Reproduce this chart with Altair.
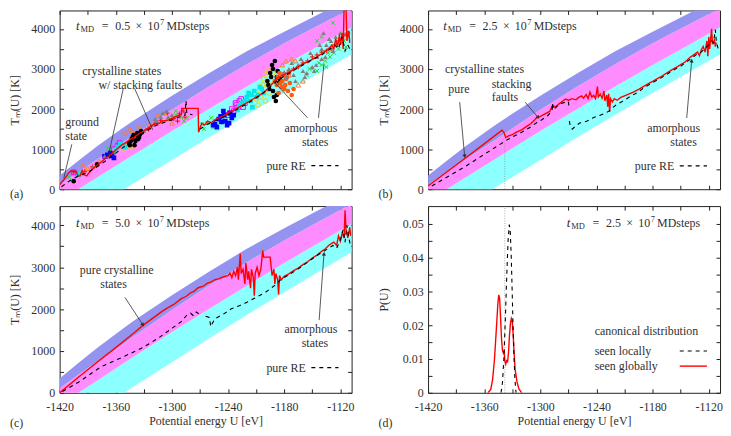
import math
import altair as alt
import pandas as pd

FONT = "Liberation Serif"
FS = 12
TXT = "#303030"
W, HT, HB = 294, 180, 188
XDOM = [-1420, -1108]
TDOM = [0, 4460]
PDOM = [0, 0.0553]
XLAB = [-1420, -1360, -1300, -1240, -1180, -1120]
XTICK = [-1420, -1390, -1360, -1330, -1300, -1270, -1240, -1210, -1180, -1150, -1120]
TLAB = [0, 1000, 2000, 3000, 4000]
TTICK = [0, 500, 1000, 1500, 2000, 2500, 3000, 3500, 4000]
PLAB = [0, 0.01, 0.02, 0.03, 0.04, 0.05]
PTICK = [0, 0.005, 0.01, 0.015, 0.02, 0.025, 0.03, 0.035, 0.04, 0.045, 0.05]

BLUE, MAG, CYAN = "#9494f0", "#ff8cff", "#8cffff"

# band boundaries (potential energy U, temperature T)
BAND_U = [-1420, -1400, -1380, -1350, -1340, -1300, -1260, -1220, -1180, -1140, -1108]
BAND_TOP = [340, 710, 1070, 1570, 1730, 2330, 2900, 3440, 3930, 4400, 4760]
BAND_BM = [110, 430, 740, 1200, 1360, 1980, 2570, 3120, 3640, 4130, 4510]
BAND_MC = [-290, 0, 290, 730, 875, 1450, 2010, 2560, 3100, 3620, 4040]
BAND_LOW = [-1000, -710, -420, 15, 160, 730, 1300, 1860, 2400, 2935, 3360]

A_RED = [(-1420, 110), (-1415, 250), (-1410, 420), (-1408, 455), (-1403, 450), (-1400, 330), (-1398, 340),
         (-1396, 470), (-1394, 360), (-1391, 330), (-1389, 400), (-1384, 520), (-1380, 600), (-1375, 690),
         (-1370, 790), (-1365, 870), (-1360, 980), (-1354, 1100), (-1350, 1150), (-1345, 1240), (-1340, 1300),
         (-1335, 1390), (-1330, 1450), (-1326, 1520), (-1319, 1620), (-1314, 1640), (-1310, 1700),
         (-1305, 1720), (-1300, 1770), (-1295, 1820), (-1290, 1860), (-1289.5, 2016), (-1272, 2016),
         (-1271.5, 1421), (-1270, 1520), (-1268, 1650), (-1265, 1600), (-1262, 1700), (-1258, 1660),
         (-1254, 1740), (-1250, 1780), (-1245, 1830), (-1241, 1880), (-1237, 1940), (-1232, 2000),
         (-1226, 2080), (-1219, 2170), (-1212, 2270), (-1206, 2350), (-1202, 2410), (-1198, 2500),
         (-1194, 2600), (-1190, 2700), (-1188, 2770), (-1184, 2820), (-1180, 2860), (-1174, 2930),
         (-1168, 3020), (-1160, 3130), (-1153, 3200), (-1146, 3290), (-1140, 3380), (-1136, 3450),
         (-1132, 3520), (-1129, 3600), (-1127, 3500), (-1125, 3750), (-1123, 3550), (-1121, 3850),
         (-1120, 3600), (-1118, 3900), (-1117, 3500), (-1116, 4600), (-1114, 4600), (-1113, 3700),
         (-1111, 3950), (-1110, 3650)]
A_BLK = [[(-1418, 60), (-1410, 200), (-1400, 330), (-1390, 420), (-1380, 560), (-1370, 720), (-1360, 900),
          (-1350, 1080), (-1340, 1250), (-1330, 1420), (-1320, 1560), (-1310, 1650), (-1300, 1730),
          (-1292, 1800), (-1286, 1850), (-1285, 2210), (-1284, 1880), (-1278, 1860)],
         [(-1270, 1500), (-1262, 1620), (-1254, 1700), (-1245, 1800), (-1235, 1930), (-1225, 2060),
          (-1215, 2200), (-1205, 2350), (-1195, 2550), (-1188, 2700), (-1180, 2820), (-1170, 2960),
          (-1160, 3100), (-1150, 3230), (-1140, 3350), (-1132, 3480), (-1126, 3600), (-1122, 3500),
          (-1118, 3800), (-1115, 3450), (-1112, 3600), (-1110, 3500)]]

B_RED = [(-1420, 80), (-1400, 430), (-1380, 780), (-1360, 1130), (-1341, 1470), (-1339, 1420), (-1337, 1290),
         (-1334, 1330), (-1330, 1360), (-1325, 1430), (-1320, 1480), (-1315, 1560), (-1310, 1640),
         (-1304, 1780), (-1300, 1820), (-1295, 1880), (-1290, 1940), (-1287, 2090), (-1284, 2050),
         (-1280, 2130), (-1276, 2200), (-1273, 2250), (-1270, 2220), (-1266, 2260), (-1262, 2230),
         (-1259, 2290), (-1256, 2330), (-1254, 2270), (-1251, 2360), (-1249, 2260), (-1247, 2420),
         (-1245, 2300), (-1243, 2340), (-1241, 2260), (-1239, 2560), (-1238, 2300), (-1236, 2370),
         (-1234, 2270), (-1232, 2450), (-1231, 2200), (-1229, 2350), (-1228, 2060), (-1227, 2380),
         (-1226, 1930), (-1225, 2260), (-1223, 2180), (-1221, 2260), (-1218, 2220), (-1214, 2290),
         (-1210, 2330), (-1205, 2380), (-1200, 2430), (-1195, 2490), (-1189, 2570), (-1184, 2640),
         (-1180, 2690), (-1175, 2760), (-1170, 2820), (-1165, 2900), (-1160, 2970), (-1154, 3050),
         (-1150, 3110), (-1145, 3180), (-1140, 3290), (-1135, 3370), (-1132, 3420), (-1130, 3330),
         (-1128, 3480), (-1126, 3560), (-1124, 3420), (-1122, 3700), (-1121, 3320), (-1120, 3800),
         (-1119, 3500), (-1117, 4000), (-1116, 3620), (-1114, 3720), (-1113, 3560), (-1112, 3660)]
B_BLK = [[(-1416, 80), (-1400, 300), (-1380, 570), (-1360, 870), (-1339, 1180), (-1335, 1240), (-1330, 1300),
          (-1320, 1420), (-1310, 1560), (-1304, 1660), (-1298, 1740), (-1292, 1840), (-1287.5, 1950),
          (-1287, 2150), (-1286, 1980), (-1280, 2120), (-1275, 2160), (-1270, 2190), (-1269.5, 2060)],
         [(-1269, 1700), (-1268, 1560), (-1266, 1500), (-1262, 1580), (-1258, 1650), (-1250, 1700),
          (-1245, 1770), (-1238, 1830), (-1231, 1890), (-1226, 1960), (-1222, 2050), (-1218, 2120),
          (-1213, 2180), (-1205, 2300), (-1195, 2430), (-1189, 2540), (-1180, 2660), (-1170, 2790),
          (-1160, 2940), (-1150, 3070), (-1140, 3240), (-1132, 3380), (-1128, 3420), (-1124, 3520),
          (-1120, 3600), (-1117, 3700), (-1115, 3650), (-1113, 3980), (-1112, 3700), (-1110, 3500)]]

C_RED = [(-1420, 0), (-1400, 370), (-1380, 730), (-1360, 1080), (-1340, 1440), (-1331, 1610), (-1320, 1790),
         (-1312, 1920), (-1306, 2010), (-1298, 2110), (-1290, 2250), (-1285, 2300), (-1280, 2390),
         (-1276, 2430), (-1272, 2510), (-1267, 2540), (-1262, 2620), (-1258, 2650), (-1254, 2700),
         (-1250, 2720), (-1246, 2760), (-1242, 2790), (-1240, 2800), (-1238, 2860), (-1236, 2750),
         (-1234, 2900), (-1232, 2800), (-1230, 3000), (-1229, 2700), (-1227, 3320), (-1226, 2850),
         (-1224, 2950), (-1222, 2600), (-1221, 3100), (-1219, 2700), (-1218, 2900), (-1216, 2500),
         (-1215, 2950), (-1213, 2750), (-1212, 2320), (-1211, 2850), (-1209, 3000), (-1207, 2800),
         (-1205, 2950), (-1203, 3400), (-1202, 3240), (-1195, 3240), (-1193, 2800), (-1191, 2950),
         (-1190, 2600), (-1189, 2850), (-1187, 2700), (-1186, 2350), (-1185, 2800), (-1183, 2700),
         (-1180, 2780), (-1175, 2840), (-1170, 2920), (-1165, 2980), (-1160, 3060), (-1155, 3130),
         (-1150, 3220), (-1145, 3290), (-1140, 3380), (-1136, 3440), (-1132, 3530), (-1127, 3600),
         (-1124, 3520), (-1122, 3750), (-1120, 3620), (-1118, 3820), (-1116, 3700), (-1115, 4360),
         (-1114, 3900), (-1112, 3700), (-1110, 3950), (-1109, 3750)]
C_BLK = [[(-1417, 30), (-1400, 250), (-1376, 620), (-1350, 880), (-1331, 1080), (-1315, 1300), (-1300, 1540),
          (-1290, 1700), (-1284, 1860), (-1280, 1900), (-1277, 1840), (-1274, 1930), (-1271, 1880)],
         [(-1264, 1830), (-1260, 1800), (-1258.5, 1580), (-1257, 1650), (-1254, 1770), (-1245, 1880),
          (-1237, 2000), (-1228, 2080), (-1220, 2160), (-1210, 2280), (-1200, 2400), (-1194, 2500),
          (-1188, 2600), (-1184, 2700), (-1175, 2820), (-1165, 2960), (-1155, 3120), (-1145, 3280),
          (-1135, 3420), (-1128, 3520), (-1124, 3450), (-1120, 3650), (-1117, 3900), (-1115, 3600),
          (-1113, 4000), (-1111, 3700), (-1109, 3500)]]

D_RED = [(-1356, 0), (-1353, 0.001), (-1351, 0.004), (-1349, 0.01), (-1347, 0.019), (-1345.5, 0.026),
         (-1344.5, 0.029), (-1343.5, 0.028), (-1342.5, 0.022), (-1341.5, 0.016), (-1340.5, 0.0125),
         (-1339.5, 0.0118), (-1338.8, 0.0125), (-1338, 0.0095), (-1337, 0.0085), (-1336, 0.0095),
         (-1335, 0.0092), (-1334, 0.012), (-1333, 0.017), (-1332, 0.0205), (-1331, 0.022), (-1330, 0.0212),
         (-1329, 0.017), (-1328, 0.0115), (-1327, 0.007), (-1325, 0.0033), (-1323, 0.0012), (-1320, 0)]
D_BLK = [(-1342, 0), (-1340.5, 0.003), (-1339, 0.01), (-1337.5, 0.021), (-1336, 0.034), (-1334.5, 0.045),
         (-1333.2, 0.0498), (-1332.2, 0.048), (-1331.2, 0.041), (-1330.2, 0.031), (-1329.2, 0.02),
         (-1328.2, 0.011), (-1327.2, 0.004), (-1326, 0)]

# scatter of panel (a): name, color, shape, filled, points
PLUS = "M-1,0L1,0M0,-1L0,1"
XSH = "M-0.8,-0.8L0.8,0.8M-0.8,0.8L0.8,-0.8"
SCATTER = [
    ("red", "#ff0000", PLUS, False,
     [(-1398, 380), (-1385, 560), (-1372, 800), (-1318, 1650), (-1312, 1720), (-1305, 1900), (-1298, 1760),
      (-1292, 1880), (-1288, 1950), (-1286, 1800), (-1180, 2900), (-1170, 3000), (-1160, 3150),
      (-1150, 3300), (-1140, 3420), (-1130, 3500), (-1122, 3700), (-1115, 3850), (-1405, 430),
      (-1393, 450), (-1325, 1500), (-1294, 1700), (-1175, 2950), (-1165, 3050), (-1145, 3350),
      (-1135, 3450), (-1126, 3600), (-1118, 3750), (-1112, 3900), (-1155, 3200)]),
    ("green", "#22dd22", XSH, False,
     [(-1410, 300), (-1368, 1020), (-1362, 900), (-1302, 1750), (-1296, 1850), (-1290, 1800), (-1287, 1700),
      (-1266, 1500), (-1262, 1650), (-1258, 1780), (-1252, 1600), (-1248, 1700), (-1156, 2850),
      (-1150, 3000), (-1145, 2950), (-1140, 3100), (-1136, 3200), (-1131, 3300), (-1127, 3400),
      (-1122, 3500), (-1118, 3650), (-1114, 3550), (-1140, 3800), (-1128, 4150), (-1365, 950),
      (-1296, 1950), (-1284, 1780), (-1268, 1620), (-1256, 1540), (-1246, 1800), (-1153, 3000),
      (-1143, 3150), (-1133, 3400), (-1124, 3600), (-1116, 3700), (-1112, 3900), (-1135, 3050),
      (-1145, 3700)]),
    ("magenta", "#ff00ff", "square", False,
     [(-1405, 420), (-1362, 1000), (-1356, 1150), (-1240, 1850), (-1236, 2000), (-1232, 2150),
      (-1229, 2050), (-1226, 2250), (-1222, 2150), (-1234, 1950), (-1400, 380), (-1358, 1080),
      (-1238, 1900), (-1228, 2200), (-1224, 2050), (-1231, 2100)]),
    ("yellow", "#f0d000", "circle", False,
     [(-1352, 1000), (-1347, 1120), (-1344, 1060), (-1210, 2250), (-1206, 2450), (-1203, 2600),
      (-1200, 2850), (-1197, 2950), (-1194, 2700), (-1208, 2100), (-1200, 2200), (-1349, 1050),
      (-1205, 2300), (-1202, 2750), (-1198, 2600), (-1196, 2400), (-1192, 2900)]),
    ("orange", "#ff7a30", "triangle-up", False,
     [(-1390, 520), (-1378, 700), (-1350, 1400), (-1342, 1450), (-1324, 1600), (-1308, 1900),
      (-1300, 1650), (-1178, 3200), (-1172, 3250), (-1186, 2950), (-1165, 2600), (-1395, 600),
      (-1345, 1500), (-1335, 1550), (-1315, 1850), (-1182, 3100), (-1168, 3200), (-1160, 2700),
      (-1175, 2850)]),
    ("blue", "#0000ff", "square", True,
     [(-1372, 820), (-1366, 900), (-1362, 780), (-1254, 1620), (-1250, 1750), (-1247, 1680),
      (-1244, 1850), (-1241, 1600), (-1238, 1900), (-1236, 1780), (-1252, 1550), (-1369, 860),
      (-1364, 830), (-1256, 1600), (-1248, 1820), (-1243, 1700), (-1239, 1650), (-1245, 1950),
      (-1234, 1850)]),
    ("cyan", "#00e8e8", "square", True,
     [(-1400, 350), (-1360, 980), (-1355, 1130), (-1350, 1050), (-1230, 1980), (-1225, 2150),
      (-1220, 2300), (-1216, 2200), (-1212, 2450), (-1208, 2350), (-1204, 2500), (-1214, 2050),
      (-1398, 400), (-1358, 1050), (-1352, 1100), (-1228, 2100), (-1222, 2200), (-1218, 2400),
      (-1210, 2300), (-1206, 2550), (-1202, 2400), (-1215, 2350)]),
    ("black", "#000000", "circle", True,
     [(-1405, 200), (-1380, 620), (-1346, 1150), (-1343, 1250), (-1341, 1350), (-1339, 1200),
      (-1337, 1400), (-1335, 1300), (-1333, 1450), (-1340, 1100), (-1198, 2700), (-1195, 2900),
      (-1192, 3000), (-1190, 3200), (-1188, 2800), (-1186, 2650), (-1196, 2500), (-1191, 2300),
      (-1189, 2200), (-1344, 1200), (-1342, 1300), (-1338, 1350), (-1336, 1250), (-1334, 1380),
      (-1332, 1420), (-1345, 1100), (-1194, 2800), (-1193, 3100), (-1187, 2950), (-1185, 2750),
      (-1197, 2600), (-1192, 2450), (-1188, 2350)]),
    ("orangered", "#ff5a10", "circle", True,
     [(-1190, 2700), (-1187, 2800), (-1184, 2650), (-1181, 2850), (-1178, 2750), (-1175, 2900),
      (-1183, 2550), (-1179, 2600), (-1176, 2450), (-1172, 2350), (-1188, 2600), (-1185, 2900),
      (-1182, 2700), (-1180, 2500), (-1177, 2800), (-1174, 2650), (-1170, 2500), (-1186, 2400)]),
    ("grey", "#808080", "triangle-up", True,
     [(-1385, 560), (-1372, 820), (-1330, 1450), (-1322, 1600), (-1318, 1750), (-1312, 1800),
      (-1306, 1950), (-1300, 1850), (-1180, 2900), (-1175, 3000), (-1170, 2850), (-1165, 3100),
      (-1160, 2950), (-1155, 3200), (-1150, 3050), (-1145, 3300), (-1140, 3500), (-1135, 3600),
      (-1130, 3700), (-1125, 3800), (-1168, 2700), (-1158, 2800), (-1148, 2950), (-1138, 3900),
      (-1128, 3450), (-1140, 3250), (-1328, 1500), (-1316, 1700), (-1310, 1900), (-1304, 1800),
      (-1178, 2800), (-1172, 3150), (-1162, 3250), (-1152, 3400), (-1142, 3600), (-1132, 3750),
      (-1120, 3900), (-1156, 2900), (-1146, 3100), (-1136, 3300)]),
]


def xenc(field, axis=None):
    return alt.X(f"{field}:Q", scale=alt.Scale(domain=XDOM, nice=False, zero=False), axis=axis)


def yenc(field, dom, axis=None):
    return alt.Y(f"{field}:Q", scale=alt.Scale(domain=dom, nice=False, zero=False), axis=axis)


def tick_axis(orient, offset, values):
    return alt.Axis(orient=orient, offset=offset, values=values, labels=False, ticks=True, tickSize=4,
                    tickColor="#222222", tickWidth=1, domain=False, grid=False, title=None,
                    minExtent=0, maxExtent=0)


def main_x():
    return alt.Axis(orient="bottom", values=XLAB, labelExpr="'' + datum.value", ticks=False, domain=False,
                    grid=False, labelFlush=False, labelFont=FONT, labelFontSize=FS, labelColor=TXT,
                    labelPadding=9, title="Potential energy U [eV]", titleFont=FONT, titleFontSize=FS,
                    titleFontWeight="normal", titleColor=TXT, titlePadding=3)


def main_y(values, title, expr):
    return alt.Axis(orient="left", values=values, labelExpr=expr, ticks=False, domain=False, grid=False,
                    labelFont=FONT, labelFontSize=FS, labelColor=TXT, labelPadding=5, minExtent=30,
                    maxExtent=30, title=title, titleFont=FONT, titleFontSize=FS, titleFontWeight="normal",
                    titleColor=TXT, titlePadding=8)


def line_layer(pts, color, dom, dash=None, width=1.3):
    if pts and isinstance(pts[0], list):
        rows = [(u, t, s) for s, seg in enumerate(pts) for (u, t) in seg]
    else:
        rows = [(u, t, 0) for (u, t) in pts]
    df = pd.DataFrame(rows, columns=["U", "T", "seg"])
    df["i"] = range(len(df))
    kw = dict(color=color, strokeWidth=width, clip=True)
    if dash:
        kw["strokeDash"] = dash
    return alt.Chart(df).mark_line(**kw).encode(x=xenc("U"), y=yenc("T", dom), order="i:Q", detail="seg:N")


def text_layer(rows, dom, align="left", size=FS, style="normal", dy=0, dx=0):
    df = pd.DataFrame(rows, columns=["U", "T", "text"])
    return alt.Chart(df).mark_text(font=FONT, fontSize=size, fontStyle=style, color=TXT, align=align,
                                   baseline="middle", dx=dx, dy=dy).encode(
        x=xenc("U"), y=yenc("T", dom), text="text:N")


def seg_layer(rows, dom, color=TXT, width=0.8, dash=None):
    df = pd.DataFrame(rows, columns=["U", "T", "U2", "T2"])
    kw = dict(color=color, strokeWidth=width)
    if dash:
        kw["strokeDash"] = dash
    return alt.Chart(df).mark_rule(**kw).encode(
        x=xenc("U"), y=yenc("T", dom), x2="U2:Q", y2="T2:Q")


def arrow_layers(rows, H):
    # rows: (U start, T start, U tip, T tip); heads drawn at the tips
    sx, sy = W / (XDOM[1] - XDOM[0]), H / (TDOM[1] - TDOM[0])
    heads = []
    for u1, t1, u2, t2 in rows:
        dx = (u2 - u1) * sx
        dy = -(t2 - t1) * sy
        ang = math.degrees(math.atan2(dx, -dy)) % 360
        heads.append((u2, t2, ang))
    hdf = pd.DataFrame(heads, columns=["U", "T", "a"])
    head = alt.Chart(hdf).mark_point(shape="triangle-up", filled=True, size=18, color=TXT, opacity=1).encode(
        x=xenc("U"), y=yenc("T", TDOM), angle=alt.Angle("a:Q", scale=None))
    return [seg_layer(rows, TDOM), head]


def tmd_layers(u0, t0, val, dom):
    pieces = [("t", 0, 13, "italic", 0), ("MD", 4.5, 8.5, "normal", 3), ("=", 26, FS, "normal", 0),
              (val, 39.5, FS, "normal", 0), ("×", 60, FS, "normal", 0), ("10", 72, FS, "normal", 0),
              ("7", 84.5, 8.5, "normal", -4), ("MDsteps", 91, FS, "normal", 0)]
    return [text_layer([(u0, t0, s)], dom, size=sz, style=st, dx=dx, dy=dy) for s, dx, sz, st, dy in pieces]


BANDS = pd.DataFrame({"U": BAND_U, "b1": BAND_TOP, "b2": BAND_BM, "b3": BAND_MC, "b4": BAND_LOW})
TEXPR = "'' + datum.value"


def t_panel(H, show_x, layers):
    cyan = alt.Chart(BANDS).mark_area(color=CYAN, clip=True).encode(
        x=xenc("U", main_x() if show_x else None),
        y=yenc("b4", TDOM, main_y(TLAB, "Tₘ(U) [K]", TEXPR)), y2="b3:Q")
    mag = alt.Chart(BANDS).mark_area(color=MAG, clip=True).encode(
        x=xenc("U", tick_axis("top", -H, XTICK)),
        y=yenc("b3", TDOM, tick_axis("right", -W, TTICK)), y2="b2:Q")
    blue = alt.Chart(BANDS).mark_area(color=BLUE, clip=True).encode(
        x=xenc("U", tick_axis("bottom", -H, XTICK)),
        y=yenc("b2", TDOM, tick_axis("left", -W, TTICK)), y2="b1:Q")
    return alt.layer(cyan, mag, blue, *layers).resolve_axis(x="independent", y="independent").properties(
        width=W, height=H)


def scatter_layers():
    rows = []
    for name, col, shp, filled, pts in SCATTER:
        for u, t in pts:
            rows.append((u, t, name, filled))
    df = pd.DataFrame(rows, columns=["U", "T", "s", "f"])
    names = [s[0] for s in SCATTER]
    cscale = alt.Scale(domain=names, range=[s[1] for s in SCATTER])
    sscale = alt.Scale(domain=names, range=[s[2] for s in SCATTER])
    out = []
    for filled in (False, True):
        out.append(alt.Chart(df[df.f == filled]).mark_point(filled=filled, size=22, strokeWidth=1,
                                                            opacity=1, clip=True).encode(
            x=xenc("U"), y=yenc("T", TDOM),
            color=alt.Color("s:N", scale=cscale, legend=None),
            shape=alt.Shape("s:N", scale=sscale, legend=None)))
    return out


def pure_re(t, dom=TDOM):
    return [text_layer([(-1157, t, "pure RE")], dom, align="right"),
            seg_layer([(-1151, t, -1122, t)], dom, color="#000000", width=1.1, dash=[4, 4])]


LET_U = -1473

# panel (a)
pa = t_panel(HT, False, scatter_layers() + [
    line_layer(A_RED, "#ff0000", TDOM, width=1.4),
    line_layer(A_BLK, "#000000", TDOM, dash=[4, 4], width=1.1),
    seg_layer([(-1352, 2511, -1368.7, 752), (-1339.8, 2511, -1320.6, 1481), (-1407, 1120, -1415.5, 277),
               (-1155, 1780, -1191.5, 2693), (-1143.4, 1780, -1137.5, 3129)], TDOM),
    text_layer([(-1353.6, 2960, "crystalline states"), (-1333.6, 2595, "w/ stacking faults"),
                (-1151.4, 1530, "amorphous"), (-1147, 1180, "states")], TDOM, align="center"),
    text_layer([(-1414, 1665, "ground"), (-1414, 1315, "state"), (LET_U, -130, "(a)")], TDOM),
] + pure_re(588) + tmd_layers(-1402.5, 4071, "0.5", TDOM))

# panel (b)
pb = t_panel(HT, False, [
    line_layer(B_RED, "#ff0000", TDOM, width=1.4),
    line_layer(B_BLK, "#000000", TDOM, dash=[4, 4], width=1.1),
    seg_layer([(-1338, 0, -1338, 1190)], TDOM, color="#888888", width=0.7, dash=[1, 1.5]),
    *arrow_layers([(-1386.2, 2172, -1380.9, 821), (-1316.3, 2172, -1302.4, 1790),
                   (-1143.6, 1776, -1138.3, 3208)], HT),
    text_layer([(-1157.6, 1525, "amorphous"), (-1147, 1175, "states")], TDOM, align="center"),
    text_layer([(-1401.9, 3007, "crystalline states"), (-1398.4, 2506, "pure"), (-1352, 2630, "stacking"),
                (-1352, 2290, "faults"), (LET_U, -130, "(b)")], TDOM),
] + pure_re(582) + tmd_layers(-1403.7, 4081, "2.5", TDOM))

# panel (c)
pc = t_panel(HB, True, [
    line_layer(C_RED, "#ff0000", TDOM, width=1.4),
    line_layer(C_BLK, "#000000", TDOM, dash=[4, 4], width=1.1),
    *arrow_layers([(-1350.2, 2278, -1331, 1622), (-1142.7, 1737, -1137.5, 3320)], HB),
    text_layer([(-1359, 2935, "pure crystalline"), (-1362.4, 2600, "states"),
                (-1151.4, 1515, "amorphous"), (-1147.2, 1185, "states")], TDOM, align="center"),
    text_layer([(LET_U, -720, "(c)")], TDOM),
] + pure_re(602) + tmd_layers(-1402.6, 4054, "5.0", TDOM))

# panel (d)
PEXPR = "datum.value == 0 ? '0' : format(datum.value, '.2f')"
d_red = line_layer(D_RED, "#ff0000", PDOM, width=1.4).encode(
    x=xenc("U", main_x()), y=yenc("T", PDOM, main_y(PLAB, "P(U)", PEXPR)))
d_blk = line_layer(D_BLK, "#000000", PDOM, dash=[4, 4], width=1.1).encode(
    x=xenc("U", tick_axis("top", -HB, XTICK)), y=yenc("T", PDOM, tick_axis("right", -W, PTICK)))
d_vline = seg_layer([(-1338, 0, -1338, 0.0553)], PDOM, color="#888888", width=0.7, dash=[1, 1.5]).encode(
    x=xenc("U", tick_axis("bottom", -HB, XTICK)), y=yenc("T", PDOM, tick_axis("left", -W, PTICK)))
pd_ = alt.layer(
    d_vline, d_red, d_blk,
    text_layer([(-1242, 0.0184, "canonical distribution"), (-1242, 0.0124, "seen locally"),
                (-1242, 0.0079, "seen globally"), (LET_U, -0.0089, "(d)")], PDOM),
    seg_layer([(-1151, 0.0124, -1122, 0.0124)], PDOM, color="#000000", width=1.1, dash=[4, 4]),
    seg_layer([(-1151, 0.0079, -1122, 0.0079)], PDOM, color="#ff0000", width=1.4),
    *tmd_layers(-1271.8, 0.0502, "2.5", PDOM),
).resolve_axis(x="independent", y="independent").properties(width=W, height=HB)

chart = alt.concat(pa, pb, pc, pd_, columns=2, spacing={"row": 4, "column": 22}, align="each").properties(
    padding=0, background="white").configure_view(stroke="#222222", strokeWidth=1)

chart.save("out.html", embed_options={"renderer": "svg", "actions": False})
